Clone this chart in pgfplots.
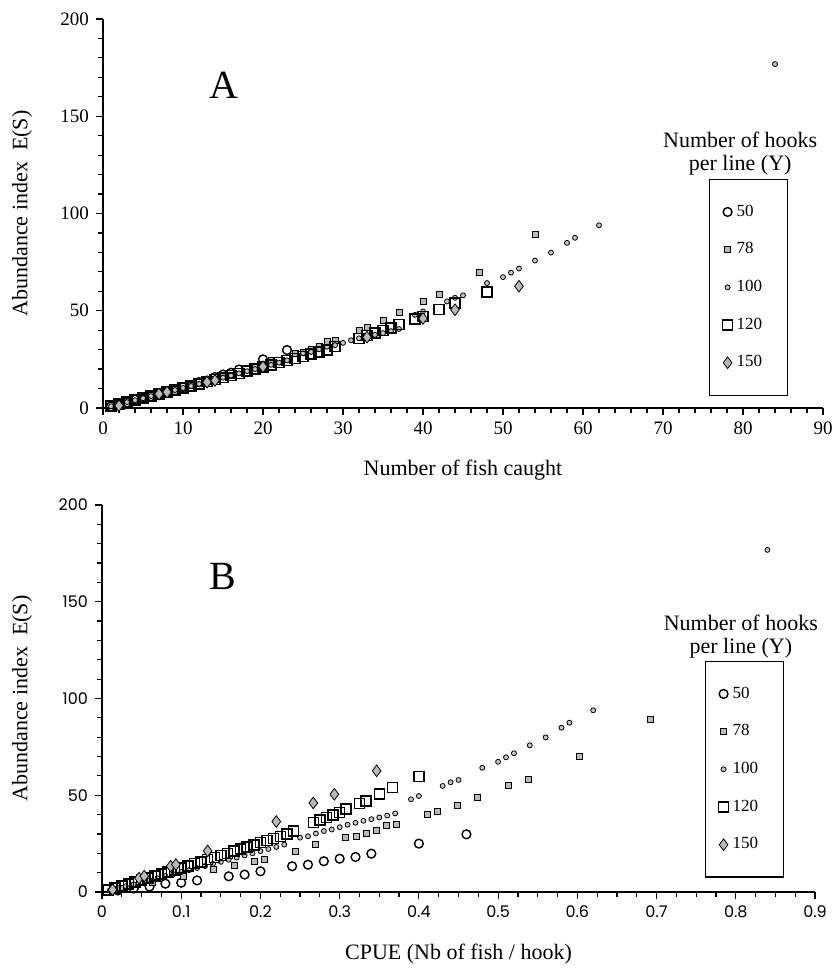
\documentclass[border=0pt]{standalone}
\usepackage{fontspec}
\setmainfont{Liberation Serif}
\newfontfamily\bsans{Poppins}
\usepackage{pgfplots}
\usepackage{pgfplotstable}
\pgfplotsset{compat=1.18}

% N = number of fish caught, C = CPUE (N / hooks), E = abundance index E(S)
\pgfplotstableread{
N C E
1 0.02 0.8
2 0.04 1.8
3 0.06 2.8
4 0.08 4.3
5 0.10 4.8
6 0.12 6.0
8 0.16 8.1
9 0.18 9.0
10 0.20 10.7
12 0.24 13.3
13 0.26 14.1
14 0.28 15.9
15 0.30 17.2
16 0.32 18.1
17 0.34 19.8
20 0.40 25.0
23 0.46 29.8
}\tabA

\pgfplotstableread{
N C E
2 0.0256 1.8
5 0.0641 4.8
8 0.1026 8.0
11 0.1410 11.6
13 0.1667 13.8
15 0.1923 16.0
16 0.2051 16.9
19 0.2436 21.2
21 0.2692 24.5
24 0.3077 28.1
25 0.3205 28.8
26 0.3333 30.2
27 0.3462 31.6
28 0.3590 34.2
29 0.3718 34.8
32 0.4103 40.0
33 0.4231 41.4
35 0.4487 44.8
37 0.4744 49.1
40 0.5128 54.9
42 0.5385 58.4
47 0.6026 69.9
54 0.6923 89.2
}\tabB

\pgfplotstableread{
N C E
1 0.01 0.9
2 0.02 2.0
3 0.03 3.0
4 0.04 4.0
5 0.05 5.0
6 0.06 6.1
7 0.07 7.1
8 0.08 8.2
9 0.09 9.2
10 0.10 10.3
11 0.11 11.3
12 0.12 12.4
13 0.13 13.4
14 0.14 14.5
15 0.15 15.6
16 0.16 16.7
17 0.17 17.8
18 0.18 18.9
19 0.19 20.0
20 0.20 21.1
21 0.21 22.2
22 0.22 23.3
23 0.23 24.5
25 0.25 28.1
26 0.26 28.8
27 0.27 30.2
28 0.28 31.5
29 0.29 32.3
30 0.30 33.5
31 0.31 34.8
32 0.32 35.8
33 0.33 36.8
34 0.34 37.6
35 0.35 38.5
36 0.36 39.5
37 0.37 40.6
39 0.39 47.9
40 0.40 49.6
43 0.43 54.8
44 0.44 56.7
45 0.45 57.9
48 0.48 64.2
50 0.50 67.3
51 0.51 69.6
52 0.52 71.7
54 0.54 75.8
56 0.56 79.9
58 0.58 84.9
59 0.59 87.5
62 0.62 93.9
84 0.84 176.8
}\tabC

\pgfplotstableread{
N C E
1 0.0083 1.0
2 0.0167 2.0
3 0.0250 3.1
4 0.0333 4.1
5 0.0417 5.1
6 0.0500 6.2
7 0.0583 7.2
8 0.0667 8.2
9 0.0750 9.3
10 0.0833 10.3
11 0.0917 11.4
12 0.1000 12.4
13 0.1083 13.5
14 0.1167 14.6
15 0.1250 15.6
16 0.1333 16.7
17 0.1417 17.8
18 0.1500 18.9
19 0.1583 20.0
20 0.1667 21.1
21 0.1750 22.2
22 0.1833 23.3
23 0.1917 24.4
24 0.2000 25.5
25 0.2083 26.6
26 0.2167 27.7
27 0.2250 28.8
28 0.2333 29.9
29 0.2417 31.5
32 0.2667 35.8
33 0.2750 37.2
34 0.2833 38.6
35 0.2917 39.8
36 0.3000 41.2
37 0.3083 42.8
39 0.3250 45.8
40 0.3333 47.0
42 0.3500 50.6
44 0.3667 54.0
48 0.4000 59.7
}\tabD

\pgfplotstableread{
N C E
2 0.0133 1.2
7 0.0467 7.2
8 0.0533 8.2
13 0.0867 13.3
14 0.0933 14.2
20 0.1333 21.2
33 0.2200 36.4
40 0.2667 46.0
44 0.2933 50.5
52 0.3467 62.6
}\tabE

\pgfplotsset{
  panel/.style={
    scale only axis,
    axis x line*=bottom, axis y line*=left,
    axis line style={line width=0.8pt,-},
    tick align=outside,
    major tick length=3.5pt, minor tick length=2.5pt,
    every tick/.style={black, line width=0.6pt},
    ymin=0, ymax=200,
    ytick={0,50,100,150,200},
    yticklabels={0,50,100,150,200},
    minor y tick num=4,
    clip=false,
    /pgf/number format/assume math mode=true,
    label style={font=\rmfamily\fontsize{11}{13}\selectfont},
    legend cell align=left,
  },
  s50/.style={only marks, mark=o, mark size=2.2pt, black, line width=0.7pt},
  s78/.style={only marks, mark=square*, mark size=1.5pt, black, line width=0.4pt, fill=gray!55},
  s100/.style={only marks, mark=*, mark size=1.25pt, black, line width=0.4pt, fill=gray!45},
  s120/.style={only marks, mark=square, mark size=2.5pt, black, line width=0.75pt},
  s150/.style={only marks, mark=diamond*, mark size=2.9pt, black, line width=0.4pt, fill=gray!55},
  hooklegend/.style={
    legend style={
      draw=black, line width=0.6pt, fill=white,
      font=\rmfamily\fontsize{8.5}{10}\selectfont,
      inner xsep=6.5pt, inner ysep=12.6pt,
      row sep=11.7pt, column sep=2pt,
      nodes={inner sep=0pt},
    },
  },
}
\newcommand{\legtxt}[1]{\makebox[19pt][l]{#1}}

\begin{document}
\begin{tikzpicture}
\useasboundingbox (0pt,0pt) rectangle (416pt,486.5pt);

% ---------------- Panel A ----------------
\begin{axis}[panel, hooklegend,
  at={(51.5pt,282.5pt)}, anchor=south west,
  width=360pt, height=194.5pt,
  xmin=0, xmax=90,
  xtick={0,10,20,30,40,50,60,70,80,90},
  xticklabels={0,10,20,30,40,50,60,70,80,90},
  minor x tick num=4,
  ticklabel style={font=\rmfamily\fontsize{9.5}{11}\selectfont},
  xlabel={Number of fish caught},
  ylabel={Abundance index\ \ E(S)},
  xlabel style={at={(axis description cs:0.5,-0.159)}, anchor=center},
  ylabel style={at={(axis description cs:-0.1125,0.5)}, anchor=center, rotate=0},
  legend style={at={(rel axis cs:0.8417,0.5887)}, anchor=north west},
  legend image code/.code={\draw[#1] plot coordinates {(0pt,0pt)};},
]
\addplot[s50]  table[x=N, y=E] {\tabA}; \addlegendentry{\legtxt{50}}
\addplot[s78]  table[x=N, y=E] {\tabB}; \addlegendentry{\legtxt{78}}
\addplot[s100] table[x=N, y=E] {\tabC}; \addlegendentry{\legtxt{100}}
\addplot[s120] table[x=N, y=E] {\tabD}; \addlegendentry{\legtxt{120}}
\addplot[s150] table[x=N, y=E] {\tabE}; \addlegendentry{\legtxt{150}}
\node[font=\fontsize{20}{24}\selectfont] at (axis cs:15.1,166) {A};
\node[align=center, font=\fontsize{11}{11.5}\selectfont] at (rel axis cs:0.885,0.653) {Number of hooks\\per line (Y)};
\end{axis}

% ---------------- Panel B ----------------
\begin{axis}[panel, hooklegend,
  at={(51pt,40.5pt)}, anchor=south west,
  width=356.5pt, height=193.5pt,
  xmin=0, xmax=0.9,
  xtick={0,0.1,0.2,0.3,0.4,0.5,0.6,0.7,0.8,0.9},
  xticklabels={0,0.1,0.2,0.3,0.4,0.5,0.6,0.7,0.8,0.9},
  minor x tick num=3,
  ticklabel style={font=\bsans\fontsize{8}{10}\selectfont},
  xlabel={CPUE (Nb of fish / hook)},
  ylabel={Abundance index\ \ E(S)},
  xlabel style={at={(axis description cs:0.5,-0.16)}, anchor=center},
  ylabel style={at={(axis description cs:-0.112,0.5)}, anchor=center, rotate=0},
  legend style={at={(rel axis cs:0.8457,0.597)}, anchor=north west},
  legend image code/.code={\draw[#1] plot coordinates {(0pt,0pt)};},
]
\addplot[s50]  table[x=C, y=E] {\tabA}; \addlegendentry{\legtxt{50}}
\addplot[s78]  table[x=C, y=E] {\tabB}; \addlegendentry{\legtxt{78}}
\addplot[s100] table[x=C, y=E] {\tabC}; \addlegendentry{\legtxt{100}}
\addplot[s120] table[x=C, y=E] {\tabD}; \addlegendentry{\legtxt{120}}
\addplot[s150] table[x=C, y=E] {\tabE}; \addlegendentry{\legtxt{150}}
\node[font=\fontsize{20}{24}\selectfont] at (axis cs:0.153,163) {B};
\node[align=center, font=\fontsize{11}{11.5}\selectfont] at (rel axis cs:0.896,0.659) {Number of hooks\\per line (Y)};
\end{axis}
\end{tikzpicture}
\end{document}
